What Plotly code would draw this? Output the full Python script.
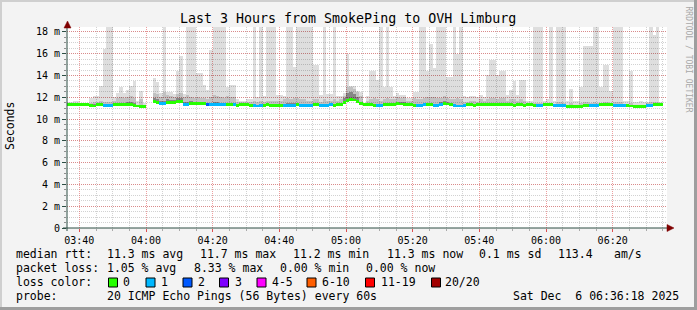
import plotly.graph_objects as go
import pandas as pd

N = None

# ---------------- data (per-minute bins, milliseconds) ----------------
median_ms = [
    11.30, 11.30, 11.30, 11.30, 11.30, 11.30, 11.30, 11.25, 11.20, 11.30,
    11.30, 11.25, 11.25, 11.22, 11.30, 11.30, 11.35, 11.30, 11.30, 11.30,
    11.28, 11.20, 11.15, 11.15, N, N, 11.60, 11.55, 11.40, 11.40,
    11.50, 11.50, 11.50, 11.65, 11.60, 11.35, 11.35, 11.40, 11.40, 11.40,
    11.40, 11.40, 11.30, 11.30, 11.30, 11.30, 11.30, 11.30, 11.32, 11.30,
    11.30, 11.28, 11.30, 11.30, 11.30, 11.28, 11.22, 11.20, 11.22, 11.28,
    11.30, 11.28, 11.25, 11.25, 11.25, 11.25, 11.25, 11.25, 11.25, 11.30,
    11.28, 11.25, 11.25, 11.28, 11.30, 11.30, 11.25, 11.22, 11.25, 11.30,
    11.28, 11.30, 11.35, 11.55, 11.70, 11.78, 11.75, 11.60, 11.40, 11.30,
    11.30, 11.30, 11.28, 11.25, 11.22, 11.30, 11.35, 11.30, 11.35, 11.40,
    11.38, 11.35, 11.30, 11.30, 11.28, 11.25, 11.25, 11.30, 11.32, 11.30,
    11.28, 11.25, 11.35, 11.40, 11.38, 11.30, 11.22, 11.20, 11.20, 11.22,
    11.30, 11.30, 11.28, 11.30, 11.30, 11.30, 11.30, 11.32, 11.30, 11.30,
    11.30, 11.32, 11.30, 11.30, 11.28, 11.30, 11.30, 11.28, 11.30, 11.30,
    11.28, 11.25, 11.25, 11.30, 11.30, 11.30, 11.25, 11.25, 11.25, 11.25,
    11.18, 11.15, 11.15, 11.15, 11.18, 11.25, 11.28, 11.25, 11.25, 11.25,
    11.30, 11.30, 11.30, 11.30, 11.25, 11.25, 11.25, 11.25, 11.28, 11.20,
    11.15, 11.15, 11.15, 11.15, 11.25, 11.25, 11.30, 11.30, 11.30,
]

loss_count = [
    0, 0, 0, 0, 0, 0, 0, 0, 0, 0,
    0, 1, 1, 1, 0, 0, 0, 0, 0, 0,
    0, 0, 0, 0, 0, 0, 0, 0, 1, 1,
    0, 0, 0, 0, 0, 1, 1, 0, 0, 0,
    0, 0, 2, 1, 1, 1, 1, 1, 0, 0,
    1, 0, 0, 0, 0, 0, 1, 1, 1, 0,
    0, 0, 0, 0, 0, 1, 1, 1, 1, 0,
    1, 1, 1, 1, 0, 0, 1, 1, 1, 1,
    0, 0, 0, 0, 0, 0, 0, 0, 0, 0,
    0, 0, 0, 1, 1, 0, 0, 0, 0, 0,
    0, 0, 0, 0, 0, 1, 1, 1, 0, 0,
    1, 1, 1, 0, 0, 0, 1, 1, 1, 1,
    0, 0, 0, 0, 0, 0, 0, 0, 0, 0,
    0, 0, 0, 0, 0, 0, 0, 0, 0, 0,
    0, 1, 1, 0, 0, 0, 1, 1, 1, 1,
    0, 0, 0, 0, 0, 0, 0, 1, 1, 1,
    0, 0, 0, 0, 1, 1, 1, 1, 0, 0,
    0, 0, 0, 0, 1, 1, 0, 0, 0,
]

smoke_top_ms = [
    11.6, 11.6, 11.7, 11.7, 11.5, 11.5, 11.5, 11.9, 12.1, 12.1,
    13.0, 16.4, 19.0, 19.0, 12.0, 12.4, 12.9, 12.4, 12.7, 13.0,
    13.5, 11.7, 12.6, 11.5, N, N, 13.8, 13.4, 12.4, 19.0,
    12.5, 12.5, 12.3, 14.4, 15.8, 12.3, 19.0, 19.0, 19.0, 14.2,
    14.2, 13.1, 12.7, 16.3, 19.0, 19.0, 19.0, 19.0, 12.9, 13.1,
    13.1, 11.8, 11.7, 11.7, 11.8, 11.8, 19.0, 12.0, 19.0, 12.1,
    19.0, 19.0, 19.0, 12.2, 12.2, 12.1, 19.0, 19.0, 14.8, 19.0,
    19.0, 19.0, 19.0, 19.0, 15.0, 15.0, 12.2, 19.0, 12.3, 12.3,
    19.0, 12.1, 12.1, 12.1, 16.0, 13.0, 13.0, 12.5, 12.5, 11.5,
    12.1, 14.4, 14.4, 13.6, 19.0, 12.9, 19.0, 12.9, 12.1, 12.4,
    12.2, 12.2, 11.9, 11.9, 12.5, 12.5, 19.0, 19.0, 14.4, 16.9,
    14.7, 19.0, 19.0, 19.0, 13.9, 13.9, 19.0, 16.0, 19.0, 12.1,
    12.0, 12.1, 12.1, 12.0, 12.2, 12.0, 14.0, 15.4, 15.4, 14.0,
    14.4, 14.4, 12.2, 12.7, 13.5, 12.2, 13.6, 13.6, 11.7, 11.7,
    19.0, 19.0, 19.0, 11.7, 11.8, 19.0, 11.7, 19.0, 19.0, 19.0,
    11.7, 12.8, 11.7, 11.7, 12.9, 16.7, 16.7, 16.7, 19.0, 19.0,
    12.9, 15.0, 15.0, 12.6, 19.0, 19.0, 19.0, 11.7, 11.7, 14.4,
    11.6, 11.6, 11.7, 11.6, 11.6, 19.0, 17.7, 19.0, 11.6,
]

smoke_mid_ms = [
    N, N, N, N, N, N, N, 11.5, 11.6, 11.6,
    11.7, 11.6, 11.6, 11.6, 11.7, 11.9, 12.0, 11.9, 12.0, 12.1,
    11.9, N, 11.8, N, N, N, 12.4, 12.3, 12.0, 12.5,
    12.2, 12.1, 12.0, 12.3, 12.4, 12.0, 12.2, 12.0, 11.9, 12.0,
    11.9, 11.9, 11.8, 12.0, 12.2, 12.1, 12.0, 11.9, 12.1, 12.0,
    12.0, 11.6, 11.6, 11.6, 11.6, 11.6, 11.7, 11.6, 11.7, 11.6,
    11.7, 11.7, 11.7, 11.7, 11.7, 11.8, 11.9, 11.8, 11.9, 11.9,
    11.8, 11.8, 11.7, 11.7, 11.8, 11.8, 11.6, 11.8, 11.7, 11.7,
    11.8, 11.7, 11.8, 12.4, 12.9, 12.9, 12.8, 12.6, 12.1, N,
    11.7, 11.8, 11.9, 11.8, 11.7, 11.8, 11.9, 11.8, 11.8, 12.0,
    11.9, 12.0, 11.7, 11.7, 11.9, 11.8, 11.8, 11.9, 12.0, 12.0,
    12.0, 11.9, 11.9, 12.1, 11.9, 11.8, 11.8, 11.9, 11.8, 11.6,
    11.6, 11.7, 11.7, 11.6, 11.8, 11.7, 11.8, 11.9, 11.9, 11.8,
    11.9, 11.9, 11.7, 11.8, 11.8, 11.7, 11.8, 11.7, N, N,
    11.5, 11.5, 11.5, N, N, 11.5, N, 11.6, 11.6, 11.5,
    N, 11.5, N, N, 11.5, 11.6, 11.6, 11.5, 11.6, 11.5,
    11.5, 11.6, 11.6, 11.5, 11.6, 11.6, 11.6, N, N, 11.5,
    N, N, N, N, 11.5, 11.6, 11.6, 11.6, N,
]

smoke_inner_ms = [
    N, N, N, N, N, N, N, N, 11.4, N,
    N, N, N, N, N, N, 11.5, 11.5, 11.6, 11.6,
    11.5, N, N, N, N, N, 11.9, 11.8, 11.65, 11.7,
    11.8, 11.75, 11.75, 11.9, 11.9, 11.6, 11.6, 11.65, 11.6, 11.6,
    11.6, 11.6, N, 11.5, 11.6, 11.6, 11.5, N, N, N,
    N, N, N, N, N, N, N, N, N, N,
    N, N, N, N, N, N, 11.5, 11.5, 11.5, N,
    N, N, N, N, N, N, N, N, N, N,
    N, N, N, 11.9, 12.4, 12.5, 12.3, 12.0, 11.6, N,
    N, N, N, N, N, N, N, N, N, 11.6,
    11.6, 11.6, N, N, N, N, N, N, N, N,
    N, N, 11.6, 11.7, 11.6, N, N, N, N, N,
    N, N, N, N, N, N, N, 11.5, 11.5, 11.5,
    11.5, 11.5, N, N, N, N, N, N, N, N,
    N, N, N, N, N, N, N, N, N, N,
    N, N, N, N, N, N, N, N, N, N,
    N, N, N, N, N, N, N, N, N, N,
    N, N, N, N, N, N, N, N, N,
]

y_tick_vals = [0, 2, 4, 6, 8, 10, 12, 14, 16, 18]
y_tick_text = ["0", "2 m", "4 m", "6 m", "8 m", "10 m", "12 m", "14 m", "16 m", "18 m"]

loss_labels = ["0", "1", "2", "3", "4-5", "6-10", "11-19", "20/20"]
loss_palette = ["#26ff00", "#00b8ff", "#0059ff", "#7e00ff", "#ff00ff", "#ff5e00", "#ff0000", "#a10000"]

legend_rtt = [("median rtt:", 16), ("11.3 ms avg", 107), ("11.7 ms max", 200), ("11.2 ms min", 293),
              ("11.3 ms now", 386.5), ("0.1 ms sd", 479), ("113.4", 558), ("am/s", 614)]
legend_loss = [("packet loss:", 16), ("1.05 % avg", 107), ("8.33 % max", 193.5), ("0.00 % min", 280),
               ("0.00 % now", 366)]
legend_probe = [("probe:", 16), ("20 ICMP Echo Pings (56 Bytes) every 60s", 107),
                ("Sat Dec\u00a0\u00a06 06:36:18 2025", 513)]
loss_square_x = [108.5, 146, 183, 219.5, 257, 307, 365.5, 431.5]
loss_label_x = [123, 160.5, 198, 235, 271.5, 322, 380.5, 445]

t_start = "2025-12-06 03:36:18"
t_end = "2025-12-06 06:36:18"
times = pd.date_range("2025-12-06 03:36:30", periods=len(median_ms), freq="min")

MONO = "DejaVu Sans Mono"


def px(x):
    return (x - 67) / 600.0


def py(y):
    return (228 - y) / 201.0


def layer(top):
    base, h = [], []
    for m, t in zip(median_ms, top):
        if m is None or t is None:
            base.append(None)
            h.append(None)
        else:
            base.append(m)
            h.append(t - m)
    return base, h


fig = go.Figure()
for arr, col in [(smoke_top_ms, "rgba(0,0,0,0.13)"),
                 (smoke_mid_ms, "rgba(0,0,0,0.13)"),
                 (smoke_inner_ms, "rgba(0,0,0,0.30)")]:
    b, h = layer(arr)
    fig.add_trace(go.Bar(x=times, y=h, base=b, width=60000,
                         marker=dict(color=col, line=dict(width=0)),
                         hoverinfo="skip", showlegend=False))

# median line, coloured by packet loss
mb, mh, mc = [], [], []
for m, l in zip(median_ms, loss_count):
    if m is None:
        mb.append(None)
        mh.append(None)
    else:
        mb.append(m - 0.135)
        mh.append(0.27)
    mc.append(loss_palette[l])
fig.add_trace(go.Bar(x=times, y=mh, base=mb, width=60000,
                     marker=dict(color=mc, line=dict(width=0)),
                     hoverinfo="skip", showlegend=False))

major_grid = "rgba(222,80,80,0.55)"
minor_grid = "rgba(143,143,143,0.4)"

fig.update_layout(
    width=697, height=310,
    margin=dict(l=67, r=30, t=27, b=82, pad=0),
    paper_bgcolor="#f3f3f3", plot_bgcolor="#ffffff",
    barmode="overlay", bargap=0,
    showlegend=False,
    xaxis=dict(
        type="date", range=[t_start, t_end],
        tick0="2025-12-06 03:40:00", dtick=1200000, tickformat="%H:%M",
        showgrid=True, gridcolor=major_grid, griddash="1px,1px", gridwidth=1,
        ticks="outside", ticklen=3, tickcolor="#de5050", tickwidth=1,
        tickfont=dict(family=MONO, size=10, color="#000000"),
        showline=False, zeroline=False,
        minor=dict(tick0="2025-12-06 03:40:00", dtick=300000, showgrid=True,
                   gridcolor=minor_grid, griddash="1px,1px", gridwidth=1,
                   ticks="outside", ticklen=2, tickcolor="#aaaaaa"),
    ),
    yaxis=dict(
        range=[0, 18.45], tickmode="array", tickvals=y_tick_vals, ticktext=y_tick_text,
        showgrid=True, gridcolor=major_grid, griddash="1px,1px", gridwidth=1,
        ticks="outside", ticklen=4, tickcolor="#2c4d43",
        tickfont=dict(family=MONO, size=10, color="#000000"),
        showline=False, zeroline=False,
        minor=dict(tick0=0, dtick=0.5, showgrid=True, gridcolor=minor_grid,
                   griddash="1px,1px", gridwidth=1, ticks="outside", ticklen=2,
                   tickcolor="#8f8f8f"),
    ),
)

shapes = []
# frame shading
shapes.append(dict(type="rect", xref="paper", yref="paper", x0=px(0), x1=px(697), y0=py(0), y1=py(2),
                   fillcolor="#cfcfcf", line=dict(width=0), layer="above"))
shapes.append(dict(type="rect", xref="paper", yref="paper", x0=px(0), x1=px(2), y0=py(0), y1=py(310),
                   fillcolor="#cfcfcf", line=dict(width=0), layer="above"))
shapes.append(dict(type="rect", xref="paper", yref="paper", x0=px(0), x1=px(697), y0=py(307), y1=py(310),
                   fillcolor="#9e9e9e", line=dict(width=0), layer="above"))
shapes.append(dict(type="rect", xref="paper", yref="paper", x0=px(694), x1=px(697), y0=py(0), y1=py(310),
                   fillcolor="#9e9e9e", line=dict(width=0), layer="above"))
# axes
shapes.append(dict(type="line", xref="paper", yref="paper", x0=px(67), x1=px(67), y0=py(231), y1=py(25),
                   line=dict(color="#2c4d43", width=1), layer="above"))
shapes.append(dict(type="line", xref="paper", yref="paper", x0=px(63), x1=px(669), y0=py(228), y1=py(228),
                   line=dict(color="#2c4d43", width=1), layer="above"))
# arrows
shapes.append(dict(type="path", xref="paper", yref="paper",
                   path="M {} {} L {} {} L {} {} Z".format(px(64), py(28), px(67.5), py(21), px(71), py(28)),
                   fillcolor="#7f0000", line=dict(color="#7f0000", width=0.5), layer="above"))
shapes.append(dict(type="path", xref="paper", yref="paper",
                   path="M {} {} L {} {} L {} {} Z".format(px(667), py(224.5), px(674), py(228), px(667), py(231.5)),
                   fillcolor="#7f0000", line=dict(color="#7f0000", width=0.5), layer="above"))
# loss colour squares
for sx, col in zip(loss_square_x, loss_palette):
    shapes.append(dict(type="rect", xref="paper", yref="paper", x0=px(sx), x1=px(sx + 9),
                       y0=py(278), y1=py(287), fillcolor=col,
                       line=dict(color="#000000", width=1), layer="above"))

ann = []


def txt(x, y, s, size=11.5, color="#000000", anchor="left", angle=0):
    ann.append(dict(x=px(x), y=py(y), xref="paper", yref="paper", text=s, showarrow=False,
                    xanchor=anchor, yanchor="middle", textangle=angle, borderpad=0,
                    font=dict(family=MONO, size=size, color=color)))


txt(347.5, 19, "Last 3 Hours from SmokePing to OVH Limburg", size=13.3, anchor="center")
txt(10, 126, "Seconds", size=11.5, anchor="center", angle=-90)
txt(688.5, 59, "RRDTOOL / TOBI OETIKER", size=8, color="#a8a8a8", anchor="center", angle=90)
for s, x in legend_rtt:
    txt(x - 1, 254, s)
for s, x in legend_loss:
    txt(x - 1, 267.5, s)
txt(15, 282, "loss color:")
for s, x in zip(loss_labels, loss_label_x):
    txt(x - 1, 282, s)
for s, x in legend_probe:
    txt(x - 1, 296, s)

fig.update_layout(shapes=shapes, annotations=ann)
fig.write_html("out.html")
